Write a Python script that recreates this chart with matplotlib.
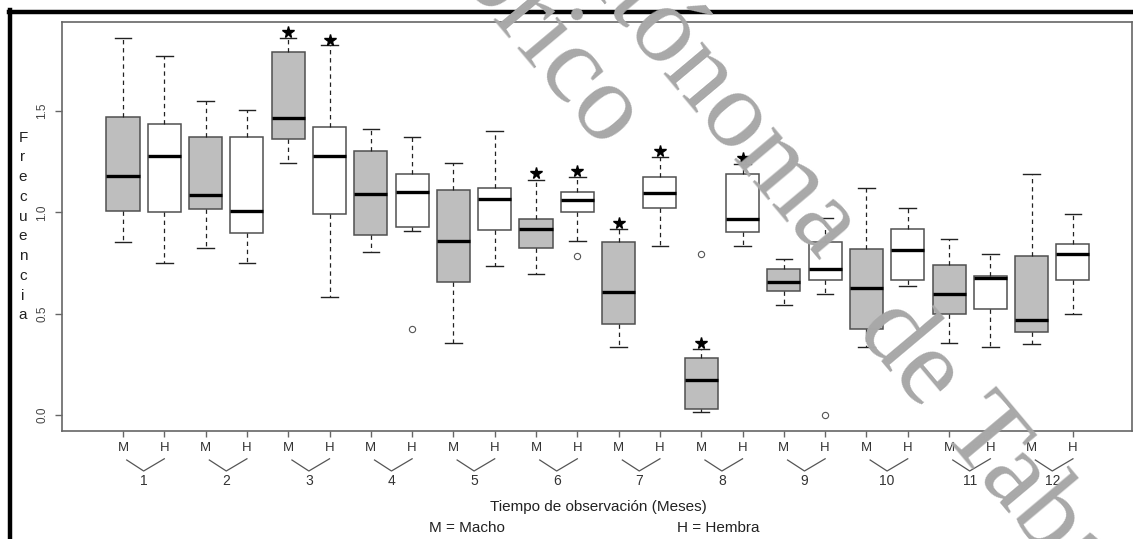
import matplotlib.pyplot as plt
import matplotlib.transforms as mtransforms
from matplotlib.lines import Line2D

plt.rcParams['font.family'] = ['Liberation Sans', 'DejaVu Sans']

# ---------------
# Datos
# ---------------

months = [str(m) for m in range(1, 13)]
sexes = ['M', 'H']

# one box per (month, sex): M1, H1, M2, H2, ...
whis_lo = [0.853, 0.748, 0.822, 0.748, 1.242, 0.584, 0.806, 0.909,
           0.354, 0.737, 0.696, 0.857, 0.334, 0.834, 0.015, 0.834,
           0.543, 0.597, 0.337, 0.636, 0.355, 0.334, 0.350, 0.500]
q1 = [1.008, 1.001, 1.015, 0.898, 1.362, 0.992, 0.889, 0.926,
      0.655, 0.914, 0.824, 1.000, 0.449, 1.020, 0.028, 0.901,
      0.613, 0.665, 0.423, 0.666, 0.500, 0.521, 0.411, 0.665]
med = [1.179, 1.279, 1.084, 1.008, 1.467, 1.276, 1.089, 1.102,
       0.860, 1.066, 0.916, 1.059, 0.608, 1.094, 0.173, 0.965,
       0.656, 0.720, 0.628, 0.814, 0.597, 0.674, 0.469, 0.793]
q3 = [1.470, 1.436, 1.370, 1.370, 1.789, 1.419, 1.304, 1.187,
      1.110, 1.118, 0.967, 1.102, 0.855, 1.174, 0.283, 1.187,
      0.719, 0.855, 0.817, 0.916, 0.740, 0.687, 0.786, 0.842]
whis_hi = [1.861, 1.771, 1.551, 1.505, 1.861, 1.825, 1.411, 1.373,
           1.245, 1.403, 1.159, 1.173, 0.918, 1.271, 0.324, 1.238,
           0.770, 0.970, 1.121, 1.020, 0.867, 0.794, 1.187, 0.992]

# atipicos (posicion de la caja, valor)
out_pos = [8, 12, 15, 18]
out_val = [0.423, 0.784, 0.794, 0.0]

# estrellas de significancia
star_pos = [5, 6, 11, 12, 13, 14, 15, 16]
star_val = [1.888, 1.850, 1.192, 1.204, 0.949, 1.302, 0.357, 1.269]

# ---------------
# Figura
# ---------------

W, H = 1133, 539
fig = plt.figure(figsize=(W / 100, H / 100), dpi=100)
ax = fig.add_axes([62 / W, 1 - 431 / H, (1132 - 62) / W, (431 - 22) / H])

pos = list(range(1, 25))
stats = []
for i in range(24):
    fl = [v for p, v in zip(out_pos, out_val) if p == i + 1]
    stats.append(dict(med=med[i], q1=q1[i], q3=q3[i],
                      whislo=whis_lo[i], whishi=whis_hi[i], fliers=fl))

edge = '#505050'
bp = ax.bxp(stats, positions=pos, widths=0.8, capwidths=0.4,
            patch_artist=True, showfliers=True,
            boxprops=dict(edgecolor=edge, linewidth=1.1),
            medianprops=dict(color='black', linewidth=2.4, solid_capstyle='butt'),
            whiskerprops=dict(color='#222222', linewidth=0.9, linestyle=(0, (3.5, 3))),
            capprops=dict(color='#222222', linewidth=1.0),
            flierprops=dict(marker='o', markerfacecolor='none',
                            markeredgecolor='#555555', markersize=4.5,
                            markeredgewidth=0.8))
for i, b in enumerate(bp['boxes']):
    b.set_facecolor('#bebebe' if i % 2 == 0 else 'white')

ax.plot(star_pos, star_val, ls='none', marker='*', color='black',
        markersize=8.5, zorder=5)

ax.set_xlim(-0.477, 25.43)
ax.set_ylim(-0.079, 1.939)

for s in ax.spines.values():
    s.set_color('#666666')
    s.set_linewidth(1.2)

ax.set_yticks([0.0, 0.5, 1.0, 1.5])
ax.set_yticklabels(['0.0', '0.5', '1.0', '1.5'], rotation=90, va='center')
ax.tick_params(axis='y', length=5, width=1, color='#666666',
               labelsize=8.5, labelcolor='#444444', pad=5)

ax.set_xticks(pos)
ax.set_xticklabels(sexes * 12)
ax.tick_params(axis='x', length=4.5, width=1, color='#666666',
               labelsize=9.5, labelcolor='#333333', pad=3.5)

# corchetes y numero de mes
tr = mtransforms.blended_transform_factory(ax.transData, ax.transAxes)
yb_top = -29 / 409
yb_bot = -40 / 409
for k, m in enumerate(months):
    xm = 2 * k + 1
    xh = xm + 1
    xc = (xm + xh) / 2
    ax.add_line(Line2D([xm + 0.09, xc, xh], [yb_top, yb_bot, yb_top + 0.003],
                       transform=tr, color='#555555', lw=0.9, clip_on=False))
    ax.text(xc, -50 / 409, m, transform=tr, ha='center', va='center',
            fontsize=10, color='#333333')

# etiqueta vertical
fig.text(23 / W, 1 - 226.5 / H, '\n'.join('Frecuencia'), ha='center',
         va='center', fontsize=11, color='#222222', linespacing=1.52)

fig.text(598.5 / W, 1 - 507 / H, 'Tiempo de observación (Meses)',
         ha='center', va='center', fontsize=11, color='#222222')
fig.text(429 / W, 1 - 528 / H, 'M = Macho', ha='left', va='center',
         fontsize=11, color='#222222')
fig.text(677 / W, 1 - 528 / H, 'H = Hembra', ha='left', va='center',
         fontsize=11, color='#222222')

# marco negro
fig.add_artist(Line2D([10.5 / W, 10.5 / W], [0, 1 - 10 / H],
                      transform=fig.transFigure, color='black', lw=3.2))
fig.add_artist(Line2D([8.5 / W, 1], [1 - 12 / H, 1 - 12 / H],
                      transform=fig.transFigure, color='black', lw=3.2))

# marca de agua
wm = dict(color='#a8a8a8', fontsize=80, family=['Liberation Serif'],
          rotation=-50, rotation_mode='anchor', va='baseline', zorder=10)
fig.text(603 / W, 1 - 150 / H, 'Repositorio Histórico', ha='right', **wm)
fig.text(855 / W, 1 - 330 / H, 'de Tabasco', ha='left', **wm)
fig.text(819 / W, 1 - 261 / H, 'Universidad Juárez Autónoma', ha='right', **wm)

fig.savefig('out.png', dpi=100)
